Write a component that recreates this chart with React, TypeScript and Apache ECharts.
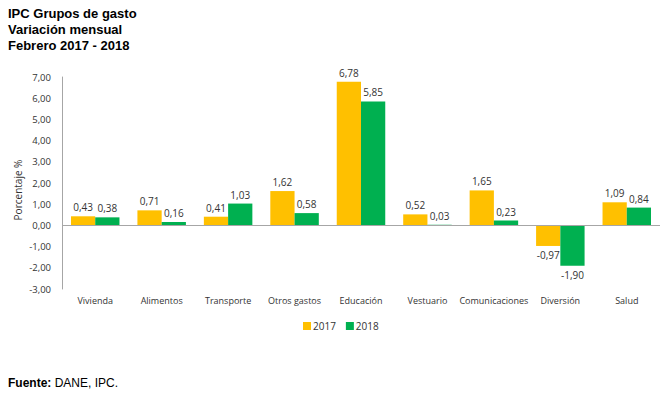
import React, { useEffect, useRef } from "react";
import * as echarts from "echarts";

const categories = ["Vivienda", "Alimentos", "Transporte", "Otros gastos", "Educación", "Vestuario", "Comunicaciones", "Diversión", "Salud"];
const values2017 = [0.43, 0.71, 0.41, 1.62, 6.78, 0.52, 1.65, -0.97, 1.09];
const values2018 = [0.38, 0.16, 1.03, 0.58, 5.85, 0.03, 0.23, -1.9, 0.84];
const seriesNames = ["2017", "2018"];
const titleLines = ["IPC Grupos de gasto", "Variación mensual", "Febrero 2017 - 2018"];

const fmt = (v: number) => v.toFixed(2).replace(".", ",");

export default function App() {
  const ref = useRef<HTMLDivElement>(null);
  useEffect(() => {
    if (!ref.current) return;
    const chart = echarts.init(ref.current, undefined, { renderer: "svg" });
    const font = "'Open Sans', sans-serif";
    const labelCfg = {
      show: true,
      fontFamily: font,
      fontSize: 10,
      color: "#333",
      formatter: (p: any) => fmt(p.value),
    };
    const mkSeries = (name: string, data: number[], color: string) => ({
      name,
      type: "bar",
      data: data.map((v) => ({
        value: v,
        label: { ...labelCfg, position: v < 0 ? "bottom" : "top", distance: 4 },
      })),
      itemStyle: { color },
      barGap: "0%",
      barCategoryGap: "27%",
    });
    const s1: any = mkSeries(seriesNames[0], values2017, "#FFC000");
    s1.markLine = {
      silent: true,
      symbol: "none",
      label: { show: false },
      lineStyle: { color: "#A6A6A6", type: "solid", width: 1 },
      data: [{ yAxis: 0 }],
    };
    const s2 = mkSeries(seriesNames[1], values2018, "#00B050");
    chart.setOption({
      animation: false,
      textStyle: { fontFamily: font },
      grid: { left: 62, right: 5, top: 77, bottom: 107, containLabel: false },
      legend: {
        data: seriesNames,
        top: 316,
        left: 298,
        itemWidth: 8,
        itemHeight: 8,
        itemGap: 10,
        icon: "rect",
        textStyle: { fontFamily: font, fontSize: 10, color: "#333", padding: [0, 0, 0, -3] },
      },
      xAxis: {
        type: "category",
        data: categories,
        axisLine: { show: false, onZero: false },
        axisTick: { show: false },
        axisLabel: { fontFamily: font, fontSize: 9, color: "#333", margin: 7, interval: 0 },
      },
      yAxis: {
        type: "value",
        min: -3,
        max: 7,
        interval: 1,
        splitLine: { show: false },
        axisLine: { show: true, lineStyle: { color: "#A6A6A6" } },
        axisTick: { show: false },
        axisLabel: { fontFamily: font, fontSize: 9.5, color: "#333", margin: 11, formatter: (v: number) => fmt(v) },
      },
      series: [s1, s2],
      graphic: [
        {
          type: "text",
          left: 8,
          top: 5,
          style: {
            text: titleLines.join("\n"),
            font: "bold 13px 'Liberation Sans', Arial, sans-serif",
            lineHeight: 16,
            fill: "#000",
          },
        },
        {
          type: "text",
          x: 18,
          y: 190,
          rotation: Math.PI / 2,
          style: {
            text: "Porcentaje %",
            fontFamily: font,
            fontSize: 10,
            fill: "#333",
            align: "center",
            verticalAlign: "middle",
          },
        },
        {
          type: "text",
          left: 8,
          top: 377,
          style: {
            text: "{b|Fuente:} DANE, IPC.",
            font: "12px 'Liberation Sans', Arial, sans-serif",
            fill: "#000",
            rich: {
              b: { fontWeight: "bold", fontSize: 12, fontFamily: "'Liberation Sans', Arial, sans-serif", fill: "#000" },
            },
          },
        },
      ],
    });
    return () => chart.dispose();
  }, []);
  return <div ref={ref} style={{ width: 665, height: 396, position: "absolute", left: 0, top: 0, background: "#fff" }} />;
}
